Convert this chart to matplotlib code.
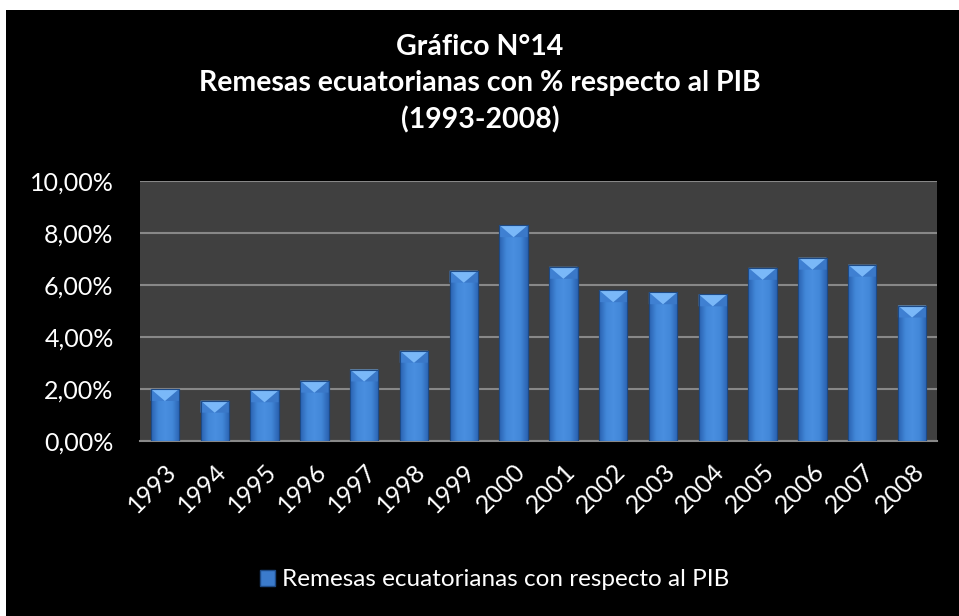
import matplotlib
matplotlib.use("Agg")
import matplotlib.pyplot as plt
import numpy as np
from matplotlib.patches import Rectangle, Polygon
from matplotlib.ticker import FuncFormatter, MultipleLocator
from matplotlib.colors import LinearSegmentedColormap

years = ["1993", "1994", "1995", "1996", "1997", "1998", "1999", "2000",
         "2001", "2002", "2003", "2004", "2005", "2006", "2007", "2008"]
remesas_pct = [2.00, 1.55, 1.95, 2.32, 2.75, 3.47, 6.55, 8.30,
               6.70, 5.80, 5.72, 5.64, 6.66, 7.05, 6.78, 5.21]
title_lines = ["Gráfico N°14", "Remesas ecuatorianas con % respecto al PIB", "(1993-2008)"]
legend_label = "Remesas ecuatorianas con respecto al PIB"

plt.rcParams['font.family'] = ['Lato', 'DejaVu Sans']

fig = plt.figure(figsize=(9.59, 6.16), dpi=100, facecolor="white")
# black chart area with thin white margin at top/left
fig.patches.append(Rectangle((6/959, 0), 1 - 6/959, (616-10)/616, transform=fig.transFigure,
                             facecolor="black", edgecolor="none", zorder=-10))

ax = fig.add_axes([140/959, (616-441)/616, (937-140)/959, (441-181)/616])
ax.set_facecolor("#404040")
x = np.arange(len(years))
bw = 0.57
bars = ax.bar(x, remesas_pct, width=bw, color="#3b7bcc", edgecolor="#1d4a86", linewidth=0.8, zorder=3)

cmap = LinearSegmentedColormap.from_list("b", ["#2a62b0", "#4287d8", "#4a8fe0", "#4287d8", "#2a62b0"])
grad = np.linspace(0, 1, 64).reshape(1, -1)
ax.set_xlim(-0.5, len(years) - 0.5)
ax.set_ylim(0, 10)
bevel = 0.46
for b in bars:
    x0, w, h = b.get_x(), b.get_width(), b.get_height()
    im = ax.imshow(grad, cmap=cmap, extent=(x0, x0 + w, 0, h), aspect="auto", zorder=3.5)
    im.set_clip_path(b)
    side = Polygon([(x0, h), (x0 + w / 2, h - bevel), (x0, h - bevel)], closed=True,
                   facecolor="#3f80d2", edgecolor="none", zorder=4)
    ax.add_patch(side)
    side2 = Polygon([(x0 + w, h), (x0 + w / 2, h - bevel), (x0 + w, h - bevel)], closed=True,
                    facecolor="#3a78c8", edgecolor="none", zorder=4)
    ax.add_patch(side2)
    tri = Polygon([(x0, h), (x0 + w, h), (x0 + w / 2, h - bevel)], closed=True,
                  facecolor="#7ab8f8", edgecolor="none", zorder=4.2)
    ax.add_patch(tri)
    ax.add_patch(Rectangle((x0, 0), w, h, facecolor="none", edgecolor="#1d4a86", linewidth=0.8, zorder=4.5))

ax.yaxis.set_major_locator(MultipleLocator(2))
ax.yaxis.set_major_formatter(FuncFormatter(lambda v, p: f"{v:.2f}%".replace(".", ",")))
ax.grid(axis="y", color="#888888", linewidth=1.5, zorder=1)
ax.set_axisbelow(True)
for s in ["top", "right", "left"]:
    ax.spines[s].set_visible(False)
ax.spines["bottom"].set_color("#888888")
ax.spines["bottom"].set_linewidth(1.5)
ax.set_xticks(x)
ax.set_xticklabels(years, rotation=45, ha="right", rotation_mode="anchor")
ax.tick_params(axis="both", length=0, colors="white", labelsize=18)
ax.tick_params(axis="x", pad=13)
ax.tick_params(axis="y", pad=19)

fig.text(480/959, 1 - 47/616, title_lines[0], ha="center", va="center", color="white",
         fontsize=20.5, fontweight="bold")
fig.text(480/959, 1 - 83/616, title_lines[1], ha="center", va="center", color="white",
         fontsize=20.5, fontweight="bold")
fig.text(480/959, 1 - 120/616, title_lines[2], ha="center", va="center", color="white",
         fontsize=20.5, fontweight="bold")

handle = Rectangle((0, 0), 1, 1, facecolor="#3b7bcc", edgecolor="#1d4a86")
leg = fig.legend([handle], [legend_label], loc="center", bbox_to_anchor=(495/959, 1 - 580/616),
                 frameon=False, fontsize=17.5, handlelength=0.6, handleheight=0.6, handletextpad=0.3)
for t in leg.get_texts():
    t.set_color("white")

fig.savefig("out.png", dpi=100, facecolor="white")
